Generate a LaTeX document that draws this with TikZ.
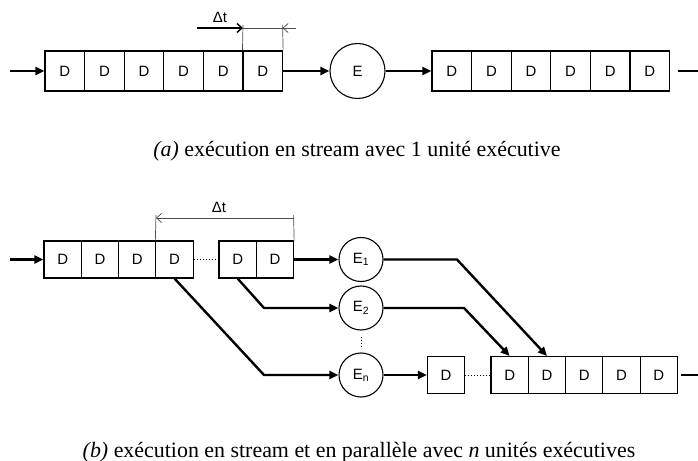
\documentclass[tikz,border=0pt]{standalone}
\usepackage{fontspec}
\setmainfont{Liberation Serif}
\setsansfont{Liberation Sans}
\usetikzlibrary{arrows.meta}

\tikzset{
    cell/.style={draw, line width=1.1bp, minimum width=39.6bp, minimum height=40bp, inner sep=0pt,
        font=\sffamily\fontsize{15}{15}\selectfont},
    smallcell/.style={cell, minimum width=37.3bp, minimum height=37bp},
    unit/.style={draw, circle, line width=1.1bp, minimum size=55bp, inner sep=0pt,
        font=\sffamily\fontsize{15}{15}\selectfont},
    smallunit/.style={unit, minimum size=44bp},
    flow/.style={line width=2.4bp, -{Triangle[length=9bp,width=8bp]}},
    dimline/.style={line width=0.7bp, gray!60!black},
    barb/.style={-{Straight Barb[length=5bp,width=9bp]}},
    caption/.style={anchor=base, font=\fontsize{22}{24}\selectfont},
}

\begin{document}
\begin{tikzpicture}[x=1bp, y=-1bp]
    \useasboundingbox (0,0) rectangle (698,461);

    % (a) one executive unit
    \begin{scope}
    \node[cell] (a1) at (64.8,71) {D};
    \node[cell] (a2) at (104.4,71) {D};
    \node[cell] (a3) at (144.0,71) {D};
    \node[cell] (a4) at (183.6,71) {D};
    \node[cell] (a5) at (223.2,71) {D};
    \node[cell] (a6) at (262.8,71) {D};
    \node[unit] (e) at (357.5,71) {E};
    \node[cell] (r1) at (451.8,71) {D};
    \node[cell] (r2) at (491.4,71) {D};
    \node[cell] (r3) at (531.0,71) {D};
    \node[cell] (r4) at (570.6,71) {D};
    \node[cell] (r5) at (610.2,71) {D};
    \node[cell] (r6) at (649.8,71) {D};
    \coordinate (ain) at (10,71);
    \coordinate (aout) at (698,71);
    \draw[flow] (ain) -- (a1);
    \draw[flow] (a6) -- (e);
    \draw[flow] (e) -- (r1);
    \draw[line width=2.4bp] ([xshift=8bp]r6.east) -- (aout);
    % delta t
    \coordinate (ta) at (243,25);
    \coordinate (tb) at (282.6,25);
    \coordinate (tl) at (197,28);
    \coordinate (tm) at (243,28);
    \coordinate (tn) at (282.6,28);
    \coordinate (tr) at (296,28);
    \draw[dimline] (a6.north west) -- (ta);
    \draw[dimline] (a6.north east) -- (tb);
    \draw[dimline, barb, line width=1.4bp, black] (tl) -- (tm);
    \draw[dimline] (tm) -- (tn);
    \draw[dimline, barb] (tr) -- (tn);
    \node[font=\sffamily\fontsize{15}{15}\selectfont] (dta) at (220,17) {Δt};
    \node[caption] (capa) at (357,157) {\textit{(a)} exécution en stream avec 1 unité exécutive};
    \end{scope}

    % (b) n executive units
    \begin{scope}
    \node[smallcell] (b1) at (62.65,259.5) {D};
    \node[smallcell] (b2) at (99.95,259.5) {D};
    \node[smallcell] (b3) at (137.25,259.5) {D};
    \node[smallcell] (b4) at (174.55,259.5) {D};
    \node[smallcell] (b5) at (237.65,259.5) {D};
    \node[smallcell] (b6) at (274.95,259.5) {D};
    \node[smallunit] (e1) at (361,259.5) {E\textsubscript{1}};
    \node[smallunit] (e2) at (361,308) {E\textsubscript{2}};
    \node[smallunit] (en) at (361,375) {E\textsubscript{n}};
    \node[smallcell] (q0) at (446,375) {D};
    \node[smallcell] (o1) at (509.65,375) {D};
    \node[smallcell] (o2) at (546.95,375) {D};
    \node[smallcell] (o3) at (584.25,375) {D};
    \node[smallcell] (o4) at (621.55,375) {D};
    \node[smallcell] (o5) at (658.85,375) {D};
    \coordinate (bin) at (10,259.5);
    \coordinate (bout) at (698,375);
    \coordinate (k2) at (264,308);
    \coordinate (kn) at (264,375);
    \coordinate (m1) at (457,259.5);
    \coordinate (m2) at (464,308);
    \draw[flow] (bin) -- (b1);
    \draw[line width=1bp, dotted] (b4) -- (b5);
    \draw[line width=1bp, dotted] (q0) -- (o1);
    \draw[line width=1bp, dotted, shorten <=6bp, shorten >=5bp] (e2) -- (en);
    \draw[flow] (b6) -- (e1);
    \draw[flow] (b5.south) -- (k2) -- (e2);
    \draw[flow] (b4.south) -- (kn) -- (en);
    \draw[flow] (en) -- (q0);
    \draw[flow] (e1) -- (m1) -- (o2.north);
    \draw[flow] (e2) -- (m2) -- (o1.north);
    \draw[line width=2.4bp] ([xshift=3bp]o5.east) -- (bout);
    % delta t
    \coordinate (ua) at (156,215);
    \coordinate (ub) at (293.6,215);
    \coordinate (ul) at (156,218);
    \coordinate (ur) at (293.6,218);
    \draw[dimline] (b4.north west) -- (ua);
    \draw[dimline] (b6.north east) -- (ub);
    \draw[dimline, barb, {Straight Barb[length=5bp,width=9bp]}-] (ul) -- (ur);
    \node[font=\sffamily\fontsize{15}{15}\selectfont] (dtb) at (219,207) {Δt};
    \node[caption] (capb) at (359,457) {\textit{(b)} exécution en stream et en parallèle avec \textit{n} unités exécutives};
    \end{scope}
\end{tikzpicture}
\end{document}
